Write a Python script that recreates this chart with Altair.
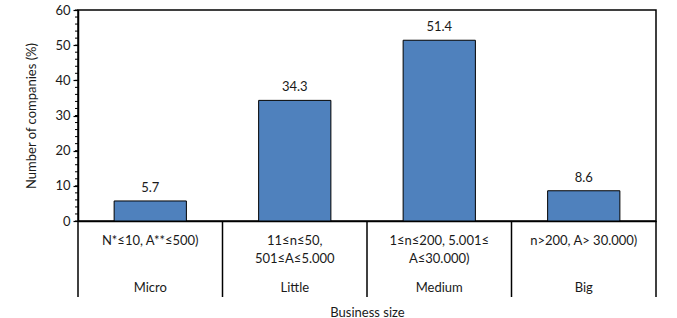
import altair as alt
import pandas as pd

categories = ["Micro", "Little", "Medium", "Big"]
values = [5.7, 34.3, 51.4, 8.6]
sublabels = ["N*≤10, A**≤500)", "11≤n≤50,\n501≤A≤5.000", "1≤n≤200, 5.001≤\nA≤30.000)", "n>200, A> 30.000)"]
major_ticks = [0, 10, 20, 30, 40, 50, 60]
minor_ticks = list(range(0, 61, 2))

df = pd.DataFrame({"size": categories, "pct": values, "sub": sublabels,
                   "lbl": [f"{v:.1f}" for v in values]})
minor_df = pd.DataFrame({"v": minor_ticks})

FONT = "Lato"
TXT = "#1a1a1a"
W, H = 578, 211

xscale = alt.Scale(domain=categories, paddingInner=0, paddingOuter=0)
yscale = alt.Scale(domain=[0, 60], nice=False)

x_axis = alt.Axis(labels=False, ticks=False, domain=True,
                  title="Business size", titleY=91, titleBaseline="middle")
y_axis = alt.Axis(values=major_ticks, grid=False, labelOverlap=False,
                  tickSize=5, labelPadding=3,
                  title="Number of companies (%)", titlePadding=16)

x_enc = alt.X("size:N", scale=xscale, sort=categories, axis=x_axis)
y_enc = alt.Y("pct:Q", scale=yscale, axis=y_axis)

base = alt.Chart(df)

bars = base.mark_bar(color="#4f81bd", stroke="black", strokeWidth=1,
                     width=alt.RelativeBandSize(0.5)).encode(x=x_enc, y=y_enc)

labels = base.mark_text(font=FONT, fontSize=13, color=TXT, baseline="bottom", dy=-6).encode(
    x=x_enc, y=y_enc, text="lbl:N")

minor = alt.Chart(minor_df).mark_rule(color="black", strokeWidth=1).encode(
    y=alt.Y("v:Q", scale=yscale, axis=y_axis), x=alt.value(-3), x2=alt.value(0))

seps = base.mark_rule(color="black", strokeWidth=1.5).encode(
    x=alt.X("size:N", scale=xscale, sort=categories, bandPosition=0, axis=x_axis),
    y=alt.value(H), y2=alt.value(287))

right_sep = alt.Chart(pd.DataFrame({"size": [categories[-1]]})).mark_rule(
    color="black", strokeWidth=1.5).encode(
    x=alt.X("size:N", scale=xscale, sort=categories, bandPosition=1, axis=x_axis),
    y=alt.value(H), y2=alt.value(287))

sub_text = base.mark_text(font=FONT, fontSize=13, color=TXT, baseline="alphabetic",
                          lineBreak="\n", lineHeight=18).encode(
    x=x_enc, y=alt.value(235), text="sub:N")

cat_text = base.mark_text(font=FONT, fontSize=13, color=TXT, baseline="alphabetic").encode(
    x=x_enc, y=alt.value(281.5), text="size:N")

chart = alt.layer(bars, labels, minor, seps, right_sep, sub_text, cat_text).properties(
    width=W, height=H,
    background="white",
    autosize=alt.AutoSizeParams(type="none"),
    padding={"left": 78, "top": 10, "right": 21, "bottom": 97},
).configure_view(stroke="black", strokeWidth=1.5).configure_axis(
    domainColor="black", domainWidth=1.5, tickColor="black", tickWidth=1.2,
    labelFont=FONT, labelFontSize=13, labelColor=TXT,
    titleFont=FONT, titleFontSize=13, titleFontWeight="normal", titleColor=TXT,
)

chart.save("out.html", embed_options={"renderer": "svg", "actions": False})
